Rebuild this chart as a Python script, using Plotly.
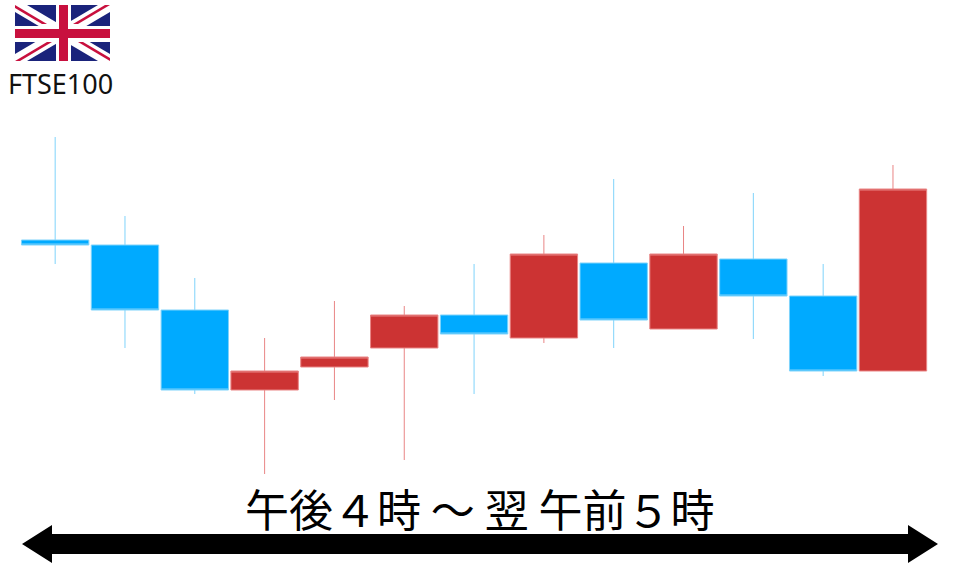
import plotly.graph_objects as go

W, H = 960, 567
opens  = [327, 322, 257, 177, 200, 219, 252, 229, 304, 238, 308, 271, 196]
highs  = [430, 351, 289, 229, 266, 261, 303, 332, 388, 341, 374, 303, 402]
lows   = [303, 219, 173,  93, 167, 107, 173, 224, 219, 238, 228, 191, 196]
closes = [322, 257, 177, 196, 210, 252, 233, 313, 247, 313, 271, 196, 378]
periods = list(range(13))
title_text = "午後４時 ～ 翌 午前５時"
index_name = "FTSE100"


def px(x):
    return x / W


def py(y):
    return 1 - y / H


def path(points):
    return "M" + "L".join(f"{px(x):.5f},{py(y):.5f}" for x, y in points) + "Z"


def poly(points, color):
    return dict(type="path", xref="paper", yref="paper", path=path(points),
                fillcolor=color, line=dict(width=0), layer="above")


NAVY, RED, WHITE = "#1a237b", "#c8103e", "#ffffff"
L, R, T, B = 15, 110, 5, 61
shapes = [
    poly([(L, T), (R, T), (R, B), (L, B)], NAVY),
    # white diagonals
    poly([(L, T), (L + 12, T), (R, B - 7), (R, B), (R - 12, B), (L, T + 7)], WHITE),
    poly([(R, T), (R, T + 7), (L + 12, B), (L, B), (L, B - 7), (R - 12, T)], WHITE),
    # red diagonals
    poly([(L, T), (L + 32, T + 19), (L + 27, T + 19), (L, T + 3)], RED),
    poly([(R, B), (R - 32, B - 19), (R - 27, B - 19), (R, B - 3)], RED),
    poly([(R, T), (R - 32, T + 19), (R - 37, T + 19), (R - 5, T)], RED),
    poly([(L, B), (L + 32, B - 19), (L + 37, B - 19), (L + 5, B)], RED),
    # white cross
    poly([(56, T), (71, T), (71, B), (56, B)], WHITE),
    poly([(L, 26), (R, 26), (R, 42), (L, 42)], WHITE),
    # red cross
    poly([(59, T), (68, T), (68, B), (59, B)], RED),
    poly([(L, 29), (R, 29), (R, 38), (L, 38)], RED),
    # double-headed arrow
    poly([(22, 544), (52, 525), (52, 534), (908, 534), (908, 525), (938, 544),
          (908, 563), (908, 554), (52, 554), (52, 563)], "#000000"),
]

fig = go.Figure(go.Candlestick(
    x=periods, open=opens, high=highs, low=lows, close=closes,
    increasing=dict(fillcolor="#cc3333", line=dict(color="#e98585", width=1)),
    decreasing=dict(fillcolor="#00aaff", line=dict(color="#7fd3fb", width=1)),
    whiskerwidth=0, showlegend=False,
))

fig.update_layout(
    width=W, height=H, margin=dict(l=0, r=0, t=0, b=0, autoexpand=False),
    paper_bgcolor="#ffffff", plot_bgcolor="#ffffff", showlegend=False,
    boxgap=0.035, boxgroupgap=0,
    xaxis=dict(visible=False, range=[-0.79, 12.96], rangeslider=dict(visible=False)),
    yaxis=dict(visible=False, range=[0, H]),
    shapes=shapes,
    annotations=[
        dict(text=index_name, xref="paper", yref="paper", x=px(60.5), y=py(83),
             xanchor="center", yanchor="middle", showarrow=False,
             font=dict(family="Noto Sans", size=27, color="#111111")),
        dict(text=title_text, xref="paper", yref="paper", x=px(480), y=py(508),
             xanchor="center", yanchor="middle", showarrow=False,
             font=dict(family="Noto Sans CJK JP", size=44, color="#000000")),
    ],
)
fig.write_html("out.html", config=dict(displayModeBar=False),
               post_script="document.body.style.margin='0';document.body.style.overflow='hidden';")
